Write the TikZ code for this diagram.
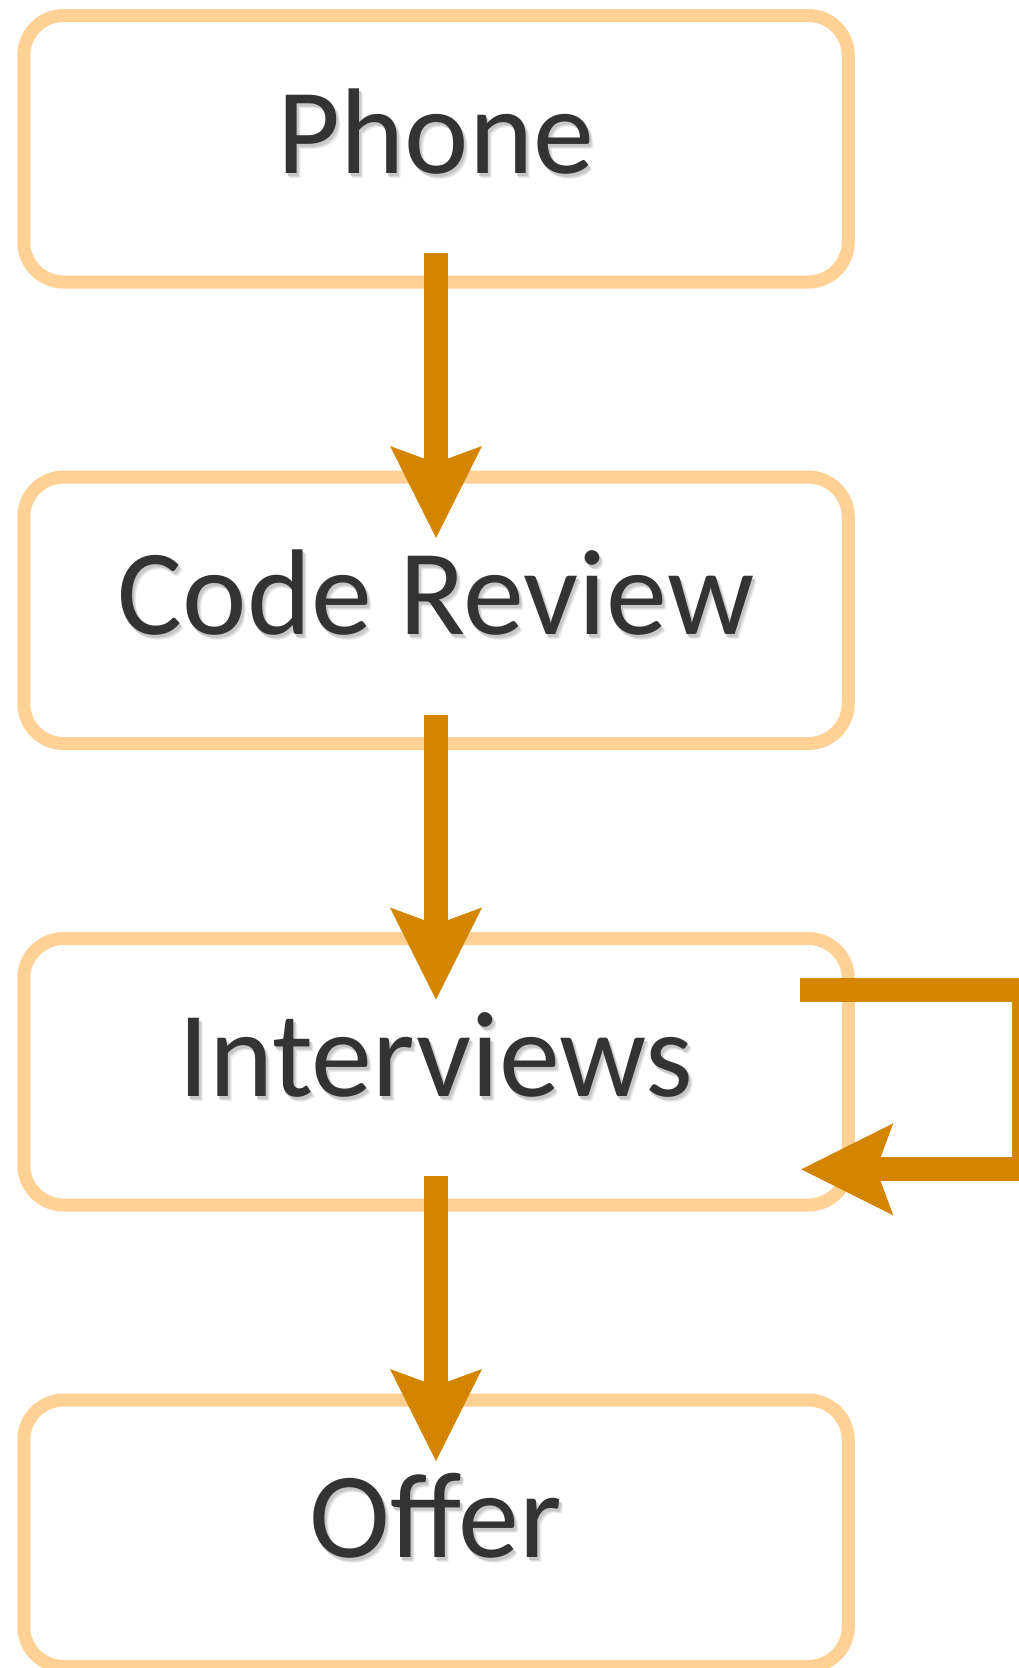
\documentclass[tikz,border=0pt]{standalone}
\usepackage{fontspec}
\setmainfont{Carlito}
\usetikzlibrary{arrows.meta, positioning}
\definecolor{boxOrange}{HTML}{FFD194}
\definecolor{flowOrange}{HTML}{D48500}
\definecolor{textGray}{HTML}{333333}

% soft drop shadow behind the stage labels
\newcommand{\shadowed}[1]{%
  \rlap{\hspace{4pt}\raisebox{-5pt}{\color{black!7}#1}}%
  \rlap{\hspace{3pt}\raisebox{-4pt}{\color{black!14}#1}}%
  \rlap{\hspace{2pt}\raisebox{-3pt}{\color{black!22}#1}}%
  #1}

\begin{document}
\begin{tikzpicture}[x=1pt, y=1pt, node distance=195pt,
    stage/.style={draw=boxOrange, line width=13pt, rounded corners=40pt,
      minimum width=824.5pt, minimum height=266.5pt, inner sep=0pt, outer sep=0pt,
      text=textGray, font=\fontsize{122}{128}\selectfont,
      text height=79pt, text depth=30pt},
    flow/.style={draw=flowOrange, line width=24pt, line join=miter,
      -{Stealth[length=92pt, width=92pt, inset=17pt, line width=0pt]}}]
    \useasboundingbox (0,0) rectangle (1019,-1668);

    % the four stages, top to bottom
    \node[stage] (phone) at (436,-148.75) {\shadowed{Phone}};
    \node[stage, below=of phone] (review) {\shadowed{Code Review}};
    \node[stage, below=of review] (interviews) {\shadowed{Interviews}};
    \node[stage, below=of interviews] (offer) {\shadowed{Offer}};

    \draw[flow] ([yshift=29pt]phone.south) -- ([yshift=-61pt]review.north);
    \draw[flow] ([yshift=29pt]review.south) -- ([yshift=-61pt]interviews.north);
    \draw[flow] ([yshift=29pt]interviews.south) -- ([yshift=-61pt]offer.north);
    % repeat loop on the right
    \draw[flow] ([xshift=-48pt, yshift=81.5pt]interviews.east) -- ++(224pt,0)
      |- ([xshift=-47pt, yshift=-97.5pt]interviews.east);
  \end{tikzpicture}
\end{document}
